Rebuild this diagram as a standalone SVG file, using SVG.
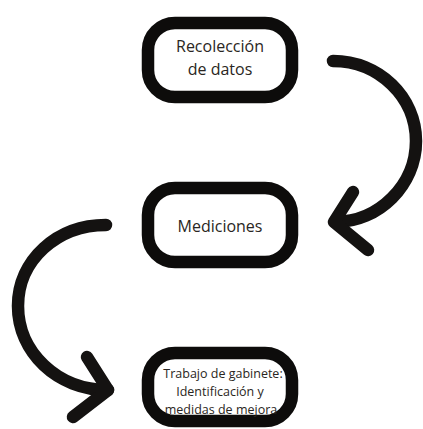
<svg xmlns="http://www.w3.org/2000/svg" width="423" height="429" viewBox="0 0 423 429">
<style>
.box{fill:#fff;stroke:#0d0c0b;stroke-width:12.5}
.lbl{font-family:"Open Sans","Noto Sans",sans-serif;fill:#2a2622;text-anchor:middle}
.big{font-size:16px}
.small{font-size:12.5px}
.arr{fill:none;stroke:#141211;stroke-width:12.5;stroke-linecap:round;stroke-linejoin:round}
</style>
<rect width="423" height="429" fill="#fff"/>
<g id="connectors">
<path class="arr" d="M333,61 C379,61 416,97 416,141 C416,185 379,222 335,222"/>
<path class="arr" d="M353,192 L334,222 L368,250"/>
<path class="arr" d="M106,225 C57,225 18,260 18,306 C18,352 57,390 108,390"/>
<path class="arr" d="M87,357 L108,390 L73,417"/>
</g>
<g id="node1">
<rect class="box" x="148" y="23" width="144" height="74" rx="27"/>
<text class="lbl big" x="220" y="52">Recolección</text>
<text class="lbl big" x="220" y="75">de datos</text>
</g>
<g id="node2">
<rect class="box" x="148" y="188" width="144" height="74" rx="27"/>
<text class="lbl big" x="220" y="232">Mediciones</text>
</g>
<g id="node3">
<rect class="box" x="148" y="353" width="144" height="68" rx="27"/>
<text class="lbl small" x="223" y="378">Trabajo de gabinete:</text>
<text class="lbl small" x="220" y="396">Identificación y</text>
<text class="lbl small" x="221" y="414">medidas de mejora</text>
</g>
</svg>
